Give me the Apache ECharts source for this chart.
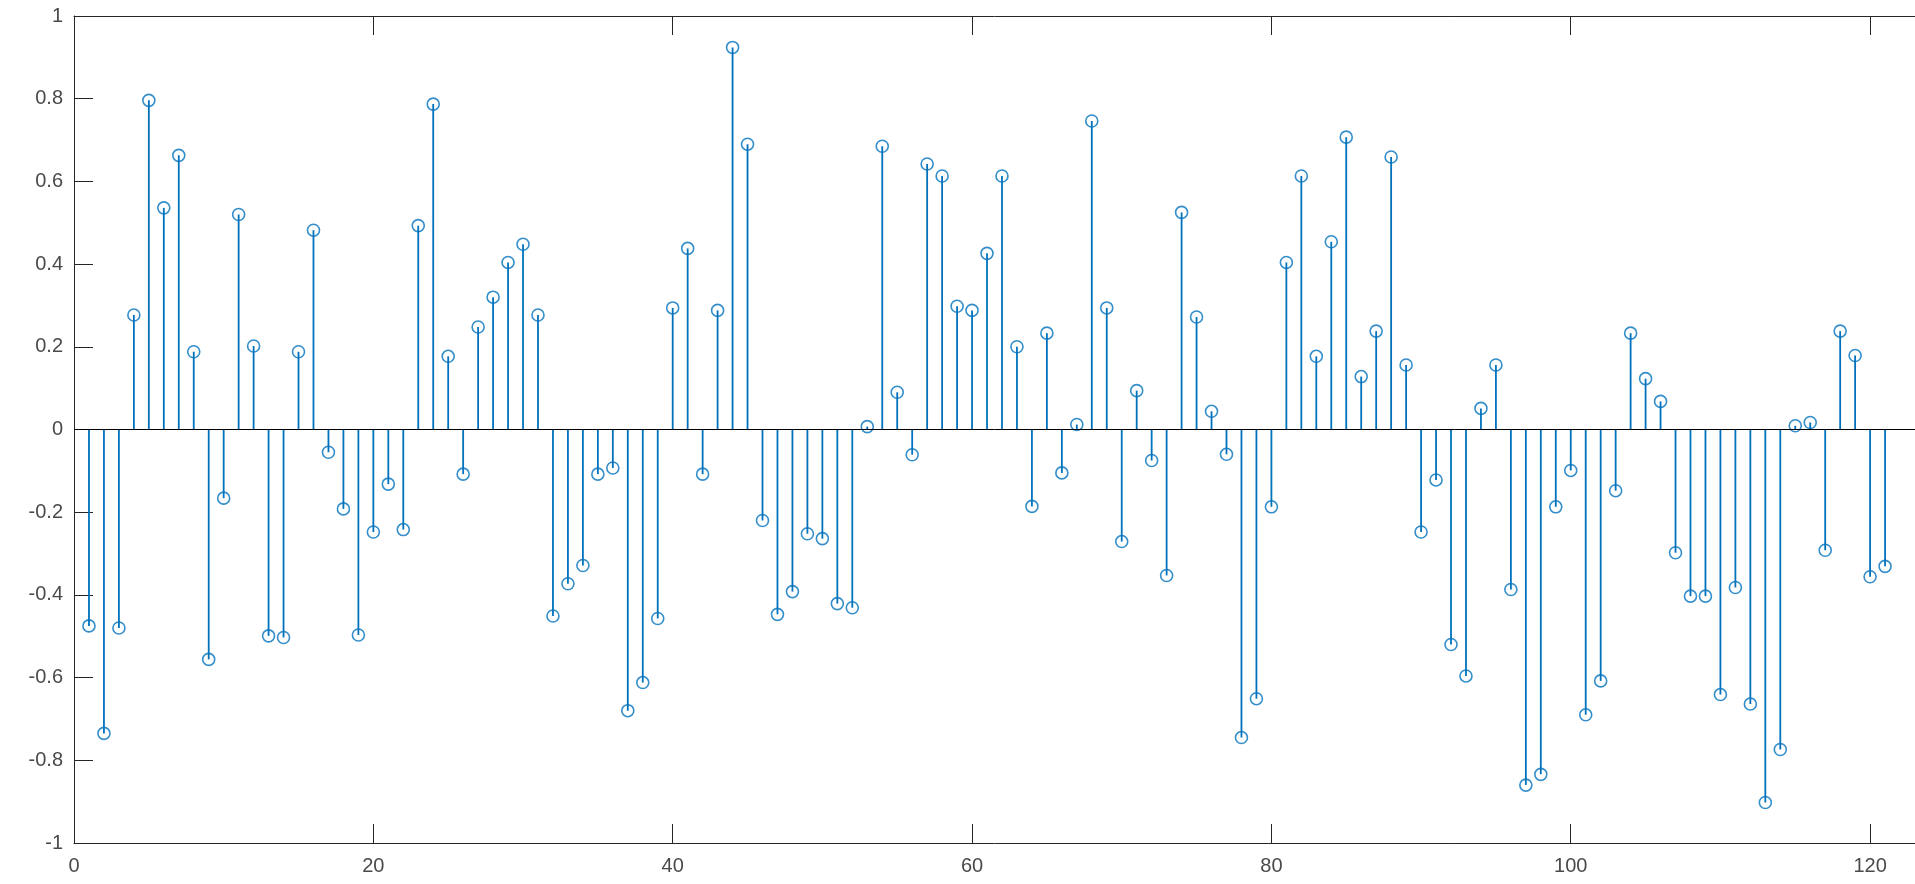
<!DOCTYPE html>
<html>
<head>
<meta charset="utf-8">
<script src="https://cdn.jsdelivr.net/npm/echarts@6/dist/echarts.min.js"></script>
<style>
  html, body { margin: 0; padding: 0; background: #fff; }
  #chart { width: 1915px; height: 884px; }
</style>
</head>
<body>
<div id="chart"></div>
<script>
// Sample indices (x) and stem values (y)
const sampleIndex = [
  1,2,3,4,5,6,7,8,9,10,11,12,13,14,15,16,17,18,19,20,
  21,22,23,24,25,26,27,28,29,30,31,32,33,34,35,36,37,38,39,40,
  41,42,43,44,45,46,47,48,49,50,51,52,53,54,55,56,57,58,59,60,
  61,62,63,64,65,66,67,68,69,70,71,72,73,74,75,76,77,78,79,80,
  81,82,83,84,85,86,87,88,89,90,91,92,93,94,95,96,97,98,99,100,
  101,102,103,104,105,106,107,108,109,110,111,112,113,114,115,116,117,118,119,120,
  121
];
const stemValues = [
  -0.475,-0.735,-0.480,0.277,0.796,0.536,0.663,0.188,-0.556,-0.166,
  0.520,0.202,-0.499,-0.503,0.188,0.482,-0.055,-0.192,-0.497,-0.248,
  -0.132,-0.242,0.493,0.787,0.177,-0.108,0.248,0.320,0.404,0.448,
  0.277,-0.451,-0.373,-0.329,-0.108,-0.093,-0.680,-0.612,-0.457,0.294,
  0.438,-0.108,0.288,0.924,0.690,-0.220,-0.447,-0.392,-0.252,-0.264,
  -0.421,-0.431,0.007,0.685,0.090,-0.061,0.642,0.613,0.298,0.288,
  0.426,0.613,0.200,-0.186,0.233,-0.105,0.012,0.746,0.294,-0.271,
  0.094,-0.075,-0.353,0.525,0.272,0.044,-0.060,-0.745,-0.651,-0.187,
  0.404,0.613,0.177,0.454,0.707,0.128,0.238,0.659,0.156,-0.248,
  -0.122,-0.520,-0.596,0.051,0.156,-0.387,-0.860,-0.834,-0.187,-0.099,
  -0.690,-0.608,-0.148,0.233,0.123,0.068,-0.298,-0.403,-0.403,-0.641,
  -0.382,-0.664,-0.902,-0.774,0.009,0.017,-0.292,0.238,0.179,-0.356,
  -0.331
];
const xTickLabels = ['0','20','40','60','80','100','120'];
const yTickLabels = ['-1','-0.8','-0.6','-0.4','-0.2','0','0.2','0.4','0.6','0.8','1'];

const points = sampleIndex.map((x, i) => [x, stemValues[i]]);

const axisColor = '#262626';
const labelColor = '#4a4a4a';
const stemColor = '#0072BD';
const fontFamily = 'Liberation Sans, Arial, Helvetica, sans-serif';

const chart = echarts.init(document.getElementById('chart'), null, { renderer: 'canvas' });

chart.setOption({
  animation: false,
  backgroundColor: '#ffffff',
  grid: { left: 74, right: 0, top: 16, bottom: 41, containLabel: false },
  xAxis: [
    {
      type: 'value', position: 'bottom',
      min: 0, max: 123, interval: 20,
      axisLine: { show: true, onZero: false, lineStyle: { color: axisColor, width: 1 } },
      axisTick: { show: true, inside: true, length: 19, lineStyle: { color: axisColor, width: 1 } },
      axisLabel: {
        show: true, color: labelColor, fontSize: 20, fontFamily: fontFamily, margin: 13,
        showMaxLabel: false,
        formatter: function (v) { return xTickLabels.indexOf(String(v)) >= 0 ? String(v) : ''; }
      },
      splitLine: { show: false }
    },
    {
      type: 'value', position: 'top',
      min: 0, max: 123, interval: 20,
      axisLine: { show: true, onZero: false, lineStyle: { color: axisColor, width: 1 } },
      axisTick: { show: true, inside: true, length: 19, lineStyle: { color: axisColor, width: 1 } },
      axisLabel: { show: false },
      splitLine: { show: false }
    }
  ],
  yAxis: {
    type: 'value', position: 'left',
    min: -1, max: 1, interval: 0.2,
    axisLine: { show: true, onZero: false, lineStyle: { color: axisColor, width: 1 } },
    axisTick: { show: true, inside: true, length: 19, lineStyle: { color: axisColor, width: 1 } },
    axisLabel: {
      show: true, color: labelColor, fontSize: 20, fontFamily: fontFamily, margin: 11,
      formatter: function (v) {
        const s = String(Math.round(v * 10) / 10);
        return yTickLabels.indexOf(s) >= 0 ? s : '';
      }
    },
    splitLine: { show: false }
  },
  series: [
    {
      type: 'custom',
      xAxisIndex: 0,
      data: points,
      renderItem: function (params, api) {
        const x = api.value(0), y = api.value(1);
        const p0 = api.coord([x, 0]);
        const p1 = api.coord([x, y]);
        return {
          type: 'line',
          shape: { x1: p0[0], y1: p0[1], x2: p1[0], y2: p1[1] },
          style: { stroke: stemColor, lineWidth: 1.8 }
        };
      },
      silent: true
    },
    {
      type: 'scatter',
      xAxisIndex: 0,
      data: points,
      symbol: 'circle',
      symbolSize: 12,
      itemStyle: { color: 'rgba(0,0,0,0)', borderColor: stemColor, borderWidth: 1.6 },
      silent: true,
      markLine: {
        silent: true,
        symbol: ['none', 'none'],
        label: { show: false },
        lineStyle: { color: '#000000', width: 1, type: 'solid' },
        data: [{ yAxis: 0 }]
      }
    }
  ]
});
</script>
</body>
</html>
